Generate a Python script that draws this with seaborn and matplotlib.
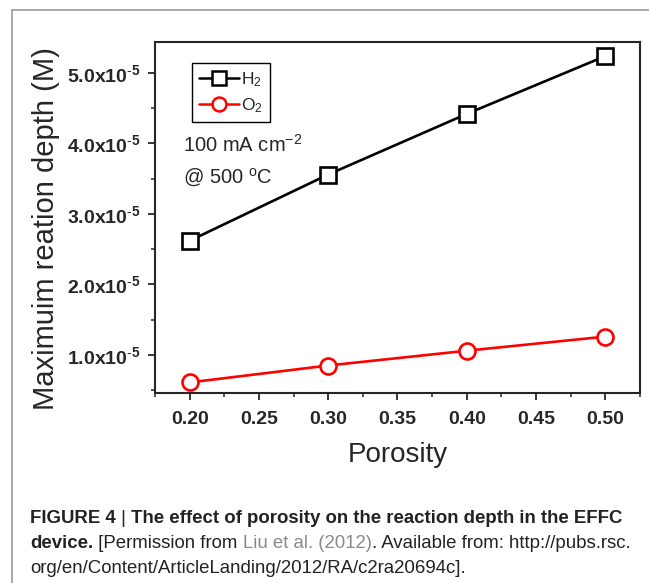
import numpy as np
import pandas as pd
import matplotlib
matplotlib.use("Agg")
import matplotlib.pyplot as plt
from matplotlib.lines import Line2D
from matplotlib.ticker import MultipleLocator
from matplotlib.transforms import IdentityTransform
import seaborn as sns

# data
porosity = [0.20, 0.30, 0.40, 0.50]
depth_h2 = [2.62e-5, 3.56e-5, 4.42e-5, 5.24e-5]
depth_o2 = [0.61e-5, 0.85e-5, 1.06e-5, 1.26e-5]
series_names = ["H$_2$", "O$_2$"]
x_ticks = [0.20, 0.25, 0.30, 0.35, 0.40, 0.45, 0.50]
y_ticks = [1.0e-5, 2.0e-5, 3.0e-5, 4.0e-5, 5.0e-5]
y_tick_labels = [r"1.0x10$^{\text{-}5}$", r"2.0x10$^{\text{-}5}$", r"3.0x10$^{\text{-}5}$",
                 r"4.0x10$^{\text{-}5}$", r"5.0x10$^{\text{-}5}$"]

sns.set_style("ticks")
plt.rcParams["font.family"] = ["Liberation Sans", "DejaVu Sans"]
plt.rcParams["mathtext.fontset"] = "custom"
plt.rcParams["mathtext.rm"] = "Liberation Sans"
plt.rcParams["mathtext.bf"] = "Liberation Sans:bold"
plt.rcParams["mathtext.default"] = "regular"

fig = plt.figure(figsize=(6.49, 5.83), dpi=100)
W, H = 649, 583
ax = fig.add_axes([155 / W, 1 - 393 / H, (640 - 155) / W, (393 - 42) / H])

df = pd.DataFrame({"porosity": porosity * 2,
                   "depth": depth_h2 + depth_o2,
                   "gas": [series_names[0]] * 4 + [series_names[1]] * 4})

styles = {series_names[0]: ("black", "s"), series_names[1]: ("red", "o")}
for gas, (c, m) in styles.items():
    sub = df[df["gas"] == gas]
    sns.lineplot(data=sub, x="porosity", y="depth", ax=ax, color=c, marker=m,
                 markersize=11.5, markerfacecolor="white", markeredgecolor=c,
                 markeredgewidth=1.9, linewidth=1.9, legend=False)

ax.set_xlim(0.175, 0.525)
ax.set_ylim(0.46e-5, 5.44e-5)
ax.set_xticks(x_ticks)
ax.set_xticklabels([f"{t:.2f}" for t in x_ticks])
ax.set_yticks(y_ticks)
ax.set_yticklabels(y_tick_labels)
ax.xaxis.set_minor_locator(MultipleLocator(0.025))
ax.yaxis.set_minor_locator(MultipleLocator(0.5e-5))
ax.tick_params(which="major", direction="out", length=5, width=1.3)
ax.tick_params(which="minor", direction="out", length=3, width=1.1)
ax.tick_params(axis="x", pad=8)
ax.tick_params(axis="y", pad=5)
for lab in ax.get_xticklabels() + ax.get_yticklabels():
    lab.set_fontweight("bold")
    lab.set_fontsize(14)
for sp in ax.spines.values():
    sp.set_linewidth(1.5)
    sp.set_visible(True)

ax.set_xlabel("Porosity", fontsize=20, labelpad=10)
ax.set_ylabel("Maximuim reation depth (M)", fontsize=21)
ax.yaxis.set_label_coords(-0.196, 0.468)

handles = [Line2D([], [], color=c, marker=m, markersize=10, markerfacecolor="white",
                  markeredgecolor=c, markeredgewidth=1.8, linewidth=1.8)
           for c, m in styles.values()]
ax.legend(handles, series_names, loc="upper left", bbox_to_anchor=(0.076, 0.94),
          frameon=True, fancybox=False, edgecolor="black", framealpha=1,
          fontsize=12.5, handlelength=2.3, handletextpad=0.15, borderpad=0.4,
          labelspacing=0.45, borderaxespad=0)

for txt, ypix in [("100 mA cm$^{-2}$", 152), ("@ 500 $^{o}$C", 183)]:
    ax.text(183, H - ypix, txt, transform=IdentityTransform(), fontsize=14.5)

# thin frame around the figure panel
fig.add_artist(Line2D([12 / W, 1], [1 - 10 / H, 1 - 10 / H], color="#9a9a9a", lw=1.2))
fig.add_artist(Line2D([12 / W, 12 / W], [0, 1 - 10 / H], color="#9a9a9a", lw=1.2))

# caption, drawn piece by piece
renderer = fig.canvas.get_renderer()


def caption_line(parts, x0, y0):
    x = x0
    for text, weight, color in parts:
        t = fig.text(x / W, 1 - y0 / H, text, fontsize=13.4, fontweight=weight,
                     color=color, va="baseline", ha="left")
        bb = t.get_window_extent(renderer)
        x += bb.width


caption_line([("FIGURE 4", "bold", "#222222"), (" | ", "normal", "#222222"),
              ("The effect of porosity on the reaction depth in the EFFC", "bold", "#222222")],
             30, 523)
caption_line([("device.", "bold", "#222222"), (" [Permission from ", "normal", "#222222"),
              ("Liu et al. (2012)", "normal", "#8a8a8a"),
              (". Available from: http://pubs.rsc.", "normal", "#222222")], 30, 548)
caption_line([("org/en/Content/ArticleLanding/2012/RA/c2ra20694c].", "normal", "#222222")],
             30, 573)

fig.savefig("out.png", dpi=100)
